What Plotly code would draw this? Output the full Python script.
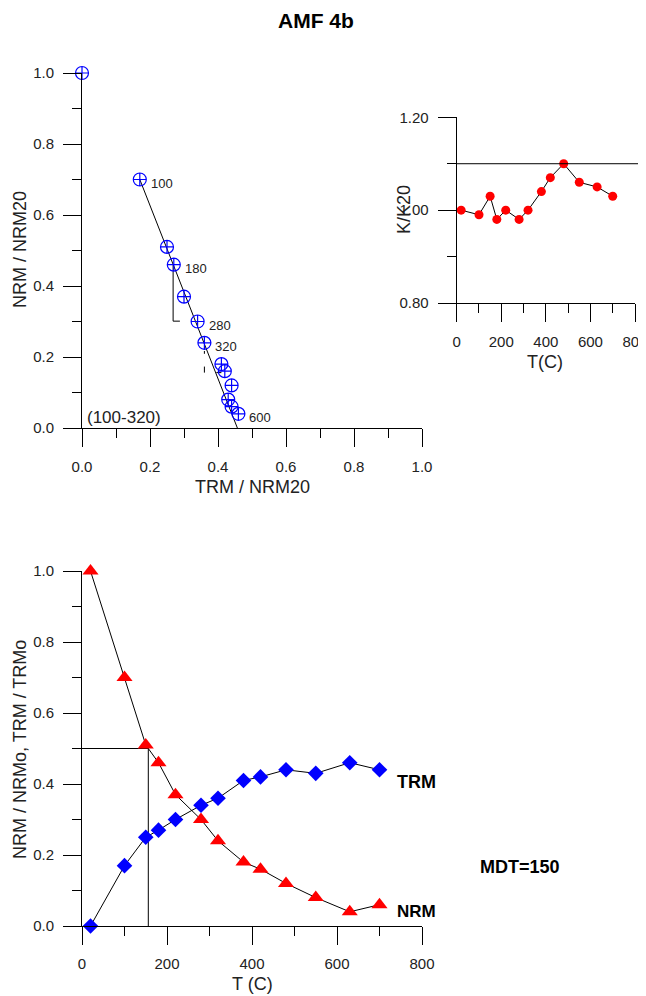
import plotly.graph_objects as go

# ---------------- data ----------------
temps = [20, 100, 150, 180, 220, 280, 320, 380, 420, 480, 550, 630, 700]
nrm_frac = [1.00, 0.70, 0.51, 0.46, 0.37, 0.30, 0.24, 0.18, 0.16, 0.12, 0.08, 0.04, 0.06]
trm_frac = [0.00, 0.17, 0.25, 0.27, 0.30, 0.34, 0.36, 0.41, 0.42, 0.44, 0.43, 0.46, 0.44]
k_ratio = [1.00, 0.99, 1.03, 0.98, 1.00, 0.98, 1.00, 1.04, 1.07, 1.10, 1.06, 1.05, 1.03]

# Arai plot point labels (index into arrays, text)
arai_label_idx = [1, 3, 5, 6, 11]
arai_label_txt = ["100", "180", "280", "320", "600"]

# best-fit line (100-320)
fit_x = [0.17, 0.457]
fit_y = [0.70, 0.0]

# pTRM check marks
ptrm1_x = [0.268, 0.268, 0.288]
ptrm1_y = [0.46, 0.301, 0.301]
ptrm2_x = [0.36, 0.36]
ptrm2_y = [0.217, 0.209]
ptrm3_x = [0.36, 0.36]
ptrm3_y = [0.173, 0.156]
ptrm4_x = [0.395, 0.41]
ptrm4_y = [0.156, 0.156]

# MDT construction
mdt_x = [0, 156, 156]
mdt_y = [0.5, 0.5, 0.0]

k_ref = 1.10

FONT = "Liberation Sans, Arial, sans-serif"
OFF = 8  # page body margin
W, H = 646 - OFF, 996 - OFF

def px(x):
    return (x - OFF) / W

def py(y):
    return 1 - (y - OFF) / H

fig = go.Figure()

# ---------------- Arai plot ----------------
fig.add_trace(go.Scatter(x=fit_x, y=fit_y, mode="lines",
                         line=dict(color="black", width=1), xaxis="x", yaxis="y",
                         cliponaxis=False, showlegend=False))
for xs, ys in [(ptrm1_x, ptrm1_y), (ptrm2_x, ptrm2_y), (ptrm3_x, ptrm3_y), (ptrm4_x, ptrm4_y)]:
    fig.add_trace(go.Scatter(x=xs, y=ys, mode="lines",
                             line=dict(color="black", width=1), xaxis="x", yaxis="y",
                             showlegend=False))
fig.add_trace(go.Scatter(x=trm_frac, y=nrm_frac, mode="markers",
                         marker=dict(symbol="circle-cross-open", size=13, color="blue",
                                     line=dict(width=1.2, color="blue")),
                         xaxis="x", yaxis="y", cliponaxis=False, showlegend=False))

for i, t in zip(arai_label_idx, arai_label_txt):
    fig.add_annotation(x=trm_frac[i], y=nrm_frac[i], xref="x", yref="y", text=t,
                       showarrow=False, xanchor="left", yanchor="middle",
                       xshift=9, yshift=-4, font=dict(family=FONT, size=13, color="#222"))
fig.add_annotation(x=px(85), y=py(417), xref="paper", yref="paper", text="(100-320)",
                   showarrow=False, xanchor="left", yanchor="middle",
                   font=dict(family=FONT, size=17, color="#222"))

# ---------------- K/K20 inset ----------------
fig.add_trace(go.Scatter(x=temps, y=k_ratio, mode="lines+markers",
                         line=dict(color="black", width=1),
                         marker=dict(symbol="circle", size=9, color="red"),
                         xaxis="x2", yaxis="y2", cliponaxis=False, showlegend=False))

# ---------------- NRM / TRM vs T ----------------
fig.add_trace(go.Scatter(x=mdt_x, y=mdt_y, mode="lines",
                         line=dict(color="black", width=1), xaxis="x3", yaxis="y3",
                         showlegend=False))
fig.add_trace(go.Scatter(x=temps, y=nrm_frac, mode="lines+markers",
                         line=dict(color="black", width=1),
                         marker=dict(symbol="triangle-up", size=14, color="red"),
                         xaxis="x3", yaxis="y3", cliponaxis=False, showlegend=False))
fig.add_trace(go.Scatter(x=temps, y=trm_frac, mode="lines+markers",
                         line=dict(color="black", width=1),
                         marker=dict(symbol="diamond", size=12, color="blue"),
                         xaxis="x3", yaxis="y3", cliponaxis=False, showlegend=False))

fig.add_annotation(x=px(395), y=py(782), xref="paper", yref="paper", text="<b>TRM</b>",
                   showarrow=False, xanchor="left", yanchor="middle",
                   font=dict(family=FONT, size=18, color="black"))
fig.add_annotation(x=px(395), y=py(911), xref="paper", yref="paper", text="<b>NRM</b>",
                   showarrow=False, xanchor="left", yanchor="middle",
                   font=dict(family=FONT, size=17, color="black"))
fig.add_annotation(x=px(478), y=py(867), xref="paper", yref="paper", text="<b>MDT=150</b>",
                   showarrow=False, xanchor="left", yanchor="middle",
                   font=dict(family=FONT, size=18, color="black"))

# title
fig.add_annotation(x=px(316), y=py(20), xref="paper", yref="paper", text="<b>AMF 4b</b>",
                   showarrow=False, xanchor="center", yanchor="middle",
                   font=dict(family=FONT, size=21, color="black"))

# axis titles as annotations for exact placement
fig.add_annotation(x=px(252), y=py(487), xref="paper", yref="paper", text="TRM / NRM20",
                   showarrow=False, xanchor="center", yanchor="middle",
                   font=dict(family=FONT, size=18, color="#222"))
fig.add_annotation(x=px(20), y=py(250), xref="paper", yref="paper", text="NRM / NRM20",
                   showarrow=False, xanchor="center", yanchor="middle", textangle=-90,
                   font=dict(family=FONT, size=18, color="#222"))
fig.add_annotation(x=px(545), y=py(362), xref="paper", yref="paper", text="T(C)",
                   showarrow=False, xanchor="center", yanchor="middle",
                   font=dict(family=FONT, size=18, color="#222"))
fig.add_annotation(x=px(404), y=py(210), xref="paper", yref="paper", text="K/K20",
                   showarrow=False, xanchor="center", yanchor="middle", textangle=-90,
                   font=dict(family=FONT, size=18, color="#222"))
fig.add_annotation(x=px(252), y=py(984), xref="paper", yref="paper", text="T (C)",
                   showarrow=False, xanchor="center", yanchor="middle",
                   font=dict(family=FONT, size=18, color="#222"))
fig.add_annotation(x=px(20), y=py(750), xref="paper", yref="paper",
                   text="NRM / NRMo, TRM / TRMo",
                   showarrow=False, xanchor="center", yanchor="middle", textangle=-90,
                   font=dict(family=FONT, size=18, color="#222"))

# reference line in inset, extends beyond plot to the right edge
ins_y0, ins_y1 = py(303), py(117.3)
ref_paper_y = ins_y0 + (k_ref - 0.8) / 0.4 * (ins_y1 - ins_y0)
fig.add_shape(type="line", xref="paper", yref="paper",
              x0=px(456.7), x1=1.0, y0=ref_paper_y, y1=ref_paper_y,
              line=dict(color="black", width=1))

tickfont = dict(family=FONT, size=15, color="#222")

def ax(domain, rng, dtick, minor_dtick, fmt, anchor, standoff):
    return dict(domain=domain, range=rng, dtick=dtick, tick0=0, tickformat=fmt,
                anchor=anchor, showline=True, linecolor="black", linewidth=1,
                ticks="outside", ticklen=18, tickwidth=1, tickcolor="black",
                minor=dict(ticks="outside", ticklen=9, dtick=minor_dtick, tick0=0,
                           tickwidth=1, tickcolor="black", showgrid=False),
                showgrid=False, zeroline=False, tickfont=tickfont, automargin=False,
                ticklabelstandoff=standoff, ticklabeloverflow="allow", fixedrange=True)

top_x = [px(82), px(422)]
top_y = [py(428), py(73)]
bot_y = [py(926), py(571)]
ins_x = [px(456.7), px(635)]
ins_y = [py(303), py(117.3)]

fig.update_layout(
    width=W, height=H,
    margin=dict(l=0, r=0, t=0, b=0, autoexpand=False),
    paper_bgcolor="white", plot_bgcolor="rgba(0,0,0,0)",
    showlegend=False,
    xaxis=ax(top_x, [0, 1], 0.2, 0.1, ".1f", "y", 7),
    yaxis=ax(top_y, [0, 1], 0.2, 0.1, ".1f", "x", 6),
    xaxis2=ax(ins_x, [0, 800], 200, 100, "d", "y2", 7),
    yaxis2=ax(ins_y, [0.8, 1.2], 0.2, 0.1, ".2f", "x2", 6),
    xaxis3=ax(top_x, [0, 800], 200, 100, "d", "y3", 6),
    yaxis3=ax(bot_y, [0, 1], 0.2, 0.1, ".1f", "x3", 6),
)
fig.update_layout(yaxis2=dict(tick0=0.8, minor=dict(tick0=0.8)))

fig.write_html("out.html")
